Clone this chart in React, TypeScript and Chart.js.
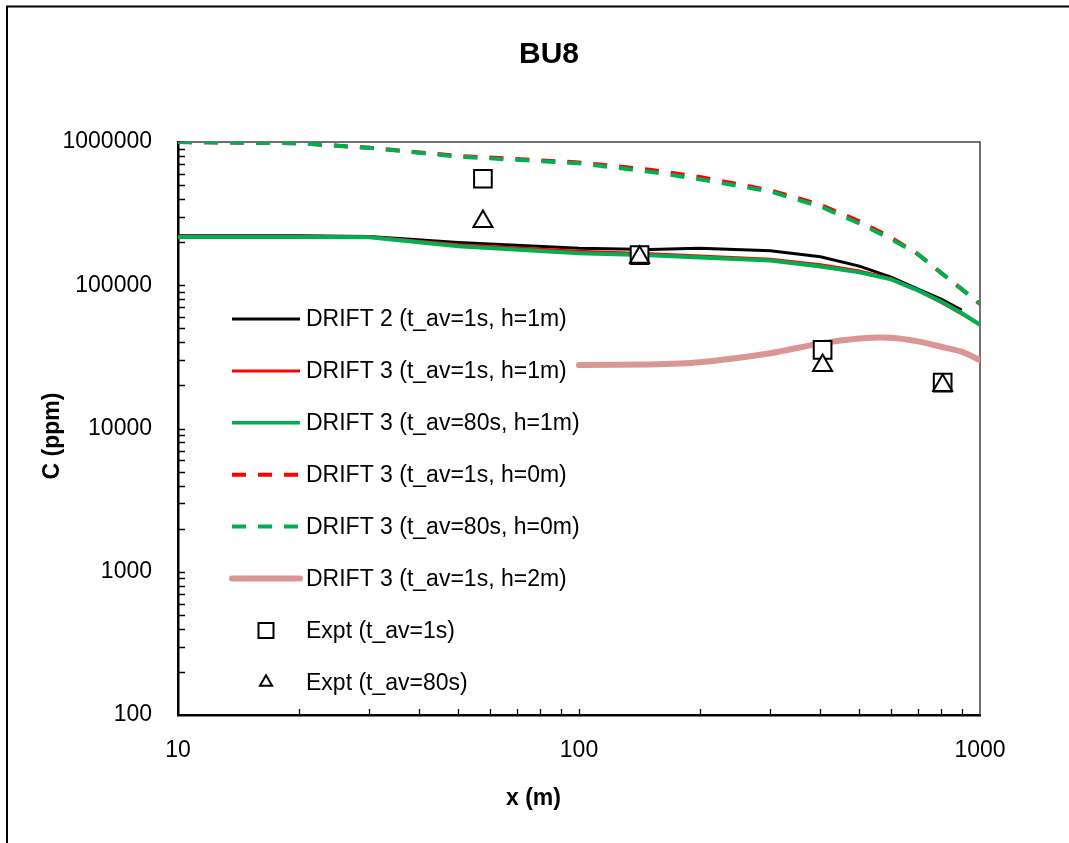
import React, { useEffect, useRef } from 'react';
import { Chart, registerables } from 'chart.js';

Chart.register(...registerables);

const FONT = '"Liberation Sans", Arial, Helvetica, sans-serif';

const TITLE = 'BU8';
const X_TITLE = 'x (m)';
const Y_TITLE = 'C (ppm)';
const X_LABELED = [10, 100, 1000];
const Y_LABELED = [100, 1000, 10000, 100000, 1000000];

// model abscissae (m)
const X_MODEL = [10, 20, 30, 50, 100, 150, 200, 300, 400, 500, 600, 700, 800, 900, 1000];
const X_DRIFT2 = [10, 20, 30, 50, 100, 150, 200, 300, 400, 500, 600, 700, 800, 900];
const X_H2 = [100, 150, 200, 300, 400, 500, 600, 700, 800, 900, 1000];
const X_EXPT = [57.6, 141.6, 405, 807];

// concentrations (ppm)
const DRIFT2_1S_H1 = [222000, 222000, 219000, 199000, 181000, 178000, 181000, 174000, 158000, 136000, 114000, 94000, 80000, 67000];
const DRIFT3_1S_H1 = [220000, 220000, 218000, 192000, 173000, 166000, 160000, 152000, 139000, 126000, 111000, 92000, 76000, 63000, 53000];
const DRIFT3_80S_H1 = [217000, 217000, 216000, 187000, 167000, 162000, 156000, 149000, 135000, 123000, 110000, 92000, 77000, 64000, 53000];
const DRIFT3_1S_H0 = [1000000, 980000, 910000, 800000, 720000, 640000, 570000, 460000, 365000, 280000, 215000, 165000, 122000, 94000, 74000];
const DRIFT3_80S_H0 = [1000000, 980000, 910000, 790000, 710000, 620000, 550000, 450000, 355000, 270000, 210000, 165000, 122000, 94000, 74000];
const DRIFT3_1S_H2 = [27700, 28000, 29000, 33500, 39300, 42500, 43000, 40600, 37200, 34400, 30000];
const EXPT_1S = [554000, 162500, 35400, 20900];
const EXPT_80S = [279000, 157000, 27500, 20000];

const LABELS = [
  'DRIFT 2 (t_av=1s, h=1m)',
  'DRIFT 3 (t_av=1s, h=1m)',
  'DRIFT 3 (t_av=80s, h=1m)',
  'DRIFT 3 (t_av=1s, h=0m)',
  'DRIFT 3 (t_av=80s, h=0m)',
  'DRIFT 3 (t_av=1s, h=2m)',
  'Expt (t_av=1s)',
  'Expt (t_av=80s)',
];

const pts = (xs: number[], ys: number[]) => xs.map((x, i) => ({ x, y: ys[i] }));

function lineDs(label: string, xs: number[], ys: number[], color: string, width: number, dash: number[], order: number, extra: any = {}) {
  return {
    label,
    data: pts(xs, ys),
    showLine: true,
    borderColor: color,
    backgroundColor: color,
    borderWidth: width,
    borderDash: dash,
    pointRadius: 0,
    pointHoverRadius: 0,
    tension: 0,
    order,
    legendKind: 'line',
    ...extra,
  };
}

function pointDs(label: string, xs: number[], ys: number[], style: string, radius: number, order: number, legendRadius: number) {
  return {
    label,
    data: pts(xs, ys),
    showLine: false,
    pointStyle: style,
    pointRadius: radius,
    pointHoverRadius: radius,
    pointBorderColor: '#000',
    pointBackgroundColor: '#fff',
    pointBorderWidth: 2,
    borderColor: '#000',
    backgroundColor: '#fff',
    order,
    legendKind: style,
    legendRadius,
  };
}

const isPow10 = (v: number) => {
  const l = Math.log10(v);
  return Math.abs(l - Math.round(l)) < 1e-9;
};

const decorPlugin = {
  id: 'decor',
  beforeDatasetsDraw(chart: any) {
    const { ctx, chartArea } = chart;
    const { left, right, top, bottom } = chartArea;
    const xs = chart.scales.x;
    const ys = chart.scales.y;
    ctx.save();
    // top & right frame
    ctx.strokeStyle = '#404040';
    ctx.lineWidth = 1.5;
    ctx.beginPath();
    ctx.moveTo(left, top);
    ctx.lineTo(right, top);
    ctx.lineTo(right, bottom);
    ctx.stroke();
    // inward ticks
    ctx.strokeStyle = '#000';
    ctx.lineWidth = 1.3;
    ctx.beginPath();
    for (let d = 10; d < 1000; d *= 10) {
      for (let m = 1; m <= 9; m++) {
        const v = d * m;
        if (v <= 10 || v >= 1000) continue;
        const px = Math.round(xs.getPixelForValue(v)) + 0.5;
        ctx.moveTo(px, bottom);
        ctx.lineTo(px, bottom - 6);
      }
    }
    for (let d = 100; d < 1000000; d *= 10) {
      for (let m = 1; m <= 9; m++) {
        const v = d * m;
        if (v <= 100) continue;
        const py = Math.round(ys.getPixelForValue(v)) + 0.5;
        ctx.moveTo(left, py);
        ctx.lineTo(left + 7, py);
      }
    }
    ctx.moveTo(left, Math.round(ys.getPixelForValue(1000000)) + 0.5);
    ctx.lineTo(left + 7, Math.round(ys.getPixelForValue(1000000)) + 0.5);
    ctx.stroke();
    ctx.restore();
  },
  afterDraw(chart: any) {
    const { ctx, chartArea } = chart;
    const { left, top, bottom } = chartArea;
    ctx.save();
    // outer frame
    ctx.strokeStyle = '#000';
    ctx.lineWidth = 2;
    ctx.strokeRect(7, 6.5, 3000, 3000);

    // titles
    ctx.fillStyle = '#000';
    ctx.textAlign = 'center';
    ctx.textBaseline = 'middle';
    ctx.font = `bold 30px ${FONT}`;
    ctx.fillText(TITLE, left + 371, top - 87);
    ctx.font = `bold 23px ${FONT}`;
    ctx.fillText(X_TITLE, left + 355.5, bottom + 84);
    ctx.save();
    ctx.translate(left - 125, top + 294);
    ctx.rotate(-Math.PI / 2);
    ctx.fillText(Y_TITLE, 0, 0);
    ctx.restore();

    // legend
    const lx0 = left + 54;
    const lx1 = left + 122;
    const mx = left + 88;
    const tx = left + 128;
    let y = top + 177;
    ctx.font = `23px ${FONT}`;
    ctx.textAlign = 'left';
    chart.data.datasets.forEach((ds: any) => {
      ctx.save();
      if (ds.legendKind === 'line') {
        ctx.strokeStyle = ds.borderColor;
        ctx.lineWidth = ds.legendWidth || ds.borderWidth;
        ctx.setLineDash(ds.borderDash || []);
        ctx.lineCap = ds.legendCap || 'butt';
        ctx.beginPath();
        ctx.moveTo(lx0, y);
        ctx.lineTo(lx1, y);
        ctx.stroke();
      } else if (ds.legendKind === 'rect') {
        const s = ds.legendRadius * Math.SQRT1_2;
        ctx.fillStyle = '#fff';
        ctx.strokeStyle = '#000';
        ctx.lineWidth = 2;
        ctx.beginPath();
        ctx.rect(mx - s, y - s, 2 * s, 2 * s);
        ctx.fill();
        ctx.stroke();
      } else if (ds.legendKind === 'triangle') {
        const r = ds.legendRadius;
        ctx.fillStyle = '#fff';
        ctx.strokeStyle = '#000';
        ctx.lineWidth = 2;
        ctx.beginPath();
        ctx.moveTo(mx, y - r);
        ctx.lineTo(mx + r * Math.sin(2 * Math.PI / 3), y + r / 2);
        ctx.lineTo(mx - r * Math.sin(2 * Math.PI / 3), y + r / 2);
        ctx.closePath();
        ctx.fill();
        ctx.stroke();
      }
      ctx.restore();
      ctx.fillStyle = '#000';
      ctx.fillText(ds.label, tx, y + 1);
      y += 51.9;
    });
    ctx.restore();
  },
};

export default function App() {
  const ref = useRef<HTMLCanvasElement | null>(null);

  useEffect(() => {
    const canvas = ref.current;
    if (!canvas) return;
    const datasets: any[] = [
      lineDs(LABELS[0], X_DRIFT2, DRIFT2_1S_H1, '#000000', 3, [], 6),
      lineDs(LABELS[1], X_MODEL, DRIFT3_1S_H1, '#ff0000', 3, [], 5),
      lineDs(LABELS[2], X_MODEL, DRIFT3_80S_H1, '#00b050', 4, [], 4, { legendWidth: 3.5 }),
      lineDs(LABELS[3], X_MODEL, DRIFT3_1S_H0, '#ff0000', 4, [14, 12], 3),
      lineDs(LABELS[4], X_MODEL, DRIFT3_80S_H0, '#00b050', 4, [14, 12], 2),
      lineDs(LABELS[5], X_H2, DRIFT3_1S_H2, '#d99694', 6, [], 1, { tension: 0.2, borderCapStyle: 'round', legendCap: 'round' }),
      pointDs(LABELS[6], X_EXPT, EXPT_1S, 'rect', 12.5, 0, 10.6),
      pointDs(LABELS[7], X_EXPT, EXPT_80S, 'triangle', 11, -1, 7),
    ];

    const tickFont = { family: FONT, size: 23 };
    const chart = new Chart(canvas, {
      type: 'scatter',
      data: { datasets },
      options: {
        responsive: false,
        animation: false,
        events: [],
        layout: { padding: { left: 0, right: 89, top: 142, bottom: 0 } },
        plugins: {
          legend: { display: false },
          title: { display: false },
          tooltip: { enabled: false },
        },
        scales: {
          x: {
            type: 'logarithmic',
            min: 10,
            max: 1000,
            position: 'bottom',
            grid: { display: false, drawTicks: false },
            border: { display: true, color: '#000', width: 2.5 },
            ticks: {
              font: tickFont,
              color: '#000',
              padding: 22,
              autoSkip: false,
              maxRotation: 0,
              callback: (v: any) => {
                const n = Number(v);
                return X_LABELED.some((t) => Math.abs(t - n) < 1e-6) ? String(Math.round(n)) : '';
              },
            },
            afterFit: (s: any) => {
              s.height = 128;
            },
          },
          y: {
            type: 'logarithmic',
            min: 100,
            max: 1000000,
            position: 'left',
            grid: { display: false, drawTicks: false },
            border: { display: true, color: '#000', width: 2.5 },
            ticks: {
              font: tickFont,
              color: '#000',
              padding: 26,
              autoSkip: false,
              callback: (v: any) => {
                const n = Number(v);
                return isPow10(n) && Y_LABELED.some((t) => Math.abs(t - n) < 1e-3) ? String(Math.round(n)) : '';
              },
            },
            afterFit: (s: any) => {
              s.width = 178;
            },
          },
        },
      },
      plugins: [decorPlugin],
    } as any);
    return () => chart.destroy();
  }, []);

  return (
    <div style={{ position: 'absolute', left: 0, top: 0, width: 1069, height: 843, background: '#fff' }}>
      <canvas ref={ref} width={1069} height={843} style={{ display: 'block', width: 1069, height: 843 }} />
    </div>
  );
}
